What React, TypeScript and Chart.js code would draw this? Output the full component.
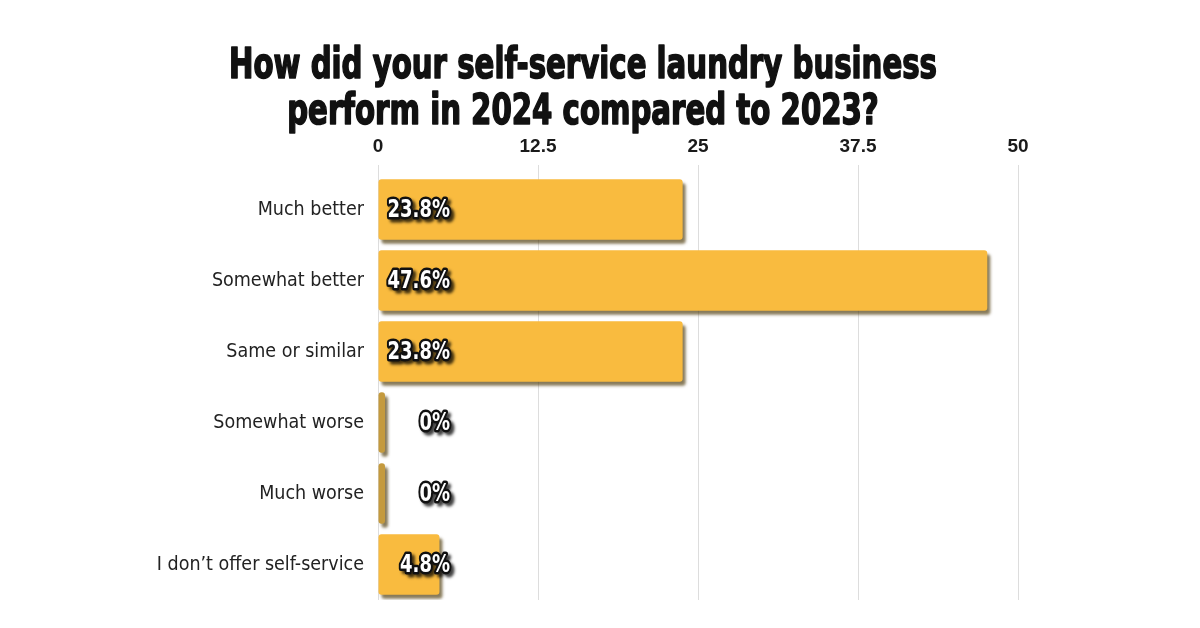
import React, { useEffect, useRef } from "react";
import { Chart, registerables } from "chart.js";

Chart.register(...registerables);

const titleLines = [
  "How did your self-service laundry business",
  "perform in 2024 compared to 2023?",
];
const categories = [
  "Much better",
  "Somewhat better",
  "Same or similar",
  "Somewhat worse",
  "Much worse",
  "I don\u2019t offer self-service",
];
const values = [23.8, 47.6, 23.8, 0, 0, 4.8];
const valueLabels = ["23.8%", "47.6%", "23.8%", "0%", "0%", "4.8%"];
const tickValues = [0, 12.5, 25, 37.5, 50];

const NARROW = "'DejaVu Sans Condensed', 'Liberation Sans Narrow', Arial, sans-serif";

const titlePlugin = {
  id: "customTitle",
  afterDraw(chart: any) {
    const ctx = chart.ctx;
    ctx.save();
    ctx.font = `bold 42px ${NARROW}`;
    ctx.fillStyle = "#111111";
    ctx.strokeStyle = "#111111";
    ctx.lineWidth = 1.6;
    ctx.lineJoin = "round";
    ctx.textAlign = "center";
    ctx.textBaseline = "alphabetic";
    const w1 = ctx.measureText(titleLines[0]).width;
    const sx = 708 / w1;
    const baselines = [78, 124];
    titleLines.forEach((line, i) => {
      ctx.save();
      ctx.translate(583, baselines[i]);
      ctx.scale(sx, 1);
      ctx.fillText(line, 0, 0);
      ctx.strokeText(line, 0, 0);
      ctx.restore();
    });
    ctx.restore();
  },
};

const shadowPlugin = {
  id: "barShadow",
  beforeDatasetsDraw(chart: any) {
    const ctx = chart.ctx;
    ctx.save();
    ctx.shadowColor = "rgba(70,50,0,0.65)";
    ctx.shadowOffsetX = 3;
    ctx.shadowOffsetY = 4;
    ctx.shadowBlur = 3;
  },
  afterDatasetsDraw(chart: any) {
    chart.ctx.restore();
  },
};

const labelPlugin = {
  id: "valueLabels",
  afterDatasetsDraw(chart: any) {
    const ctx = chart.ctx;
    const meta = chart.getDatasetMeta(0);
    const xs = chart.scales.x;
    const right = xs.getPixelForValue(0) + 72;
    ctx.save();
    ctx.font = `bold 25px ${NARROW}`;
    ctx.textAlign = "right";
    ctx.textBaseline = "middle";
    ctx.lineJoin = "round";
    const sx = 0.8;
    meta.data.forEach((bar: any, i: number) => {
      const y = bar.y + 1;
      ctx.save();
      ctx.translate(right, y);
      ctx.scale(sx, 1);
      ctx.save();
      ctx.shadowColor = "rgba(0,0,0,0.75)";
      ctx.shadowOffsetX = 3;
      ctx.shadowOffsetY = 3;
      ctx.shadowBlur = 3;
      ctx.strokeStyle = "#111";
      ctx.lineWidth = 5;
      ctx.strokeText(valueLabels[i], 0, 0);
      ctx.restore();
      ctx.fillStyle = "#ffffff";
      ctx.fillText(valueLabels[i], 0, 0);
      ctx.restore();
    });
    ctx.restore();
  },
};

export default function App() {
  const ref = useRef<HTMLCanvasElement | null>(null);
  useEffect(() => {
    if (!ref.current) return;
    const chart = new Chart(ref.current, {
      type: "bar",
      data: {
        labels: categories,
        datasets: [
          {
            data: values,
            backgroundColor: values.map((v) => (v === 0 ? "#C49A3E" : "#F9BB3F")),
            borderRadius: 3,
            borderSkipped: false,
            minBarLength: 7,
            categoryPercentage: 1,
            barPercentage: 0.85,
          },
        ],
      },
      options: {
        indexAxis: "y",
        animation: false,
        responsive: false,
        maintainAspectRatio: false,
        layout: { padding: { top: 134, left: 0, right: 182, bottom: 28 } },
        plugins: {
          legend: { display: false },
          title: { display: false },
          tooltip: { enabled: false },
        },
        scales: {
          x: {
            position: "top",
            min: 0,
            max: 50,
            afterBuildTicks: (scale: any) => {
              scale.ticks = tickValues.map((v) => ({ value: v }));
            },
            afterFit: (scale: any) => {
              scale.height = 40;
            },
            border: { display: false },
            grid: { color: "#dddddd", lineWidth: 1, tickLength: 9, drawTicks: true },
            ticks: {
              padding: 7,
              color: "#1a1a1a",
              font: { family: "'Liberation Sans', Arial, sans-serif", size: 19, weight: "bold" },
              callback: (v: any) => String(v),
            },
          },
          y: {
            afterFit: (scale: any) => {
              scale.width = 378;
            },
            border: { display: false },
            grid: { display: false },
            ticks: {
              padding: 6,
              color: "#222222",
              font: { family: NARROW, size: 19.5 },
            },
          },
        },
      },
      plugins: [titlePlugin, shadowPlugin, labelPlugin],
    } as any);
    return () => chart.destroy();
  }, []);
  return (
    <div style={{ position: "fixed", left: 0, top: 0, width: 1200, height: 628, background: "#ffffff" }}>
      <canvas ref={ref} width={1200} height={628} style={{ width: 1200, height: 628 }} />
    </div>
  );
}
